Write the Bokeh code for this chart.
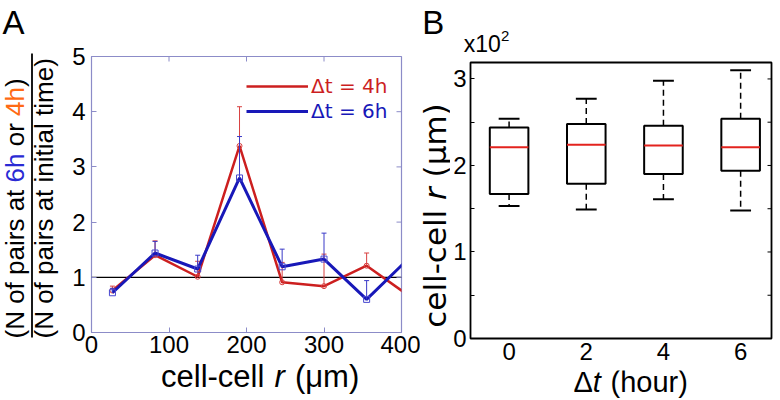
from bokeh.plotting import figure
from bokeh.models import (Range1d, FixedTicker, Label, Span, BoxAnnotation, Grid, Plot,
                          Legend, LegendItem, ColumnDataSource)
from bokeh.layouts import row, column
from bokeh.embed import file_html
from bokeh.resources import INLINE
import math

# ---------------- Panel A data ----------------
r_um = [27, 82, 137, 191, 246, 300, 355, 410]
ratio_4h = [0.76, 1.40, 1.01, 3.38, 0.91, 0.84, 1.21, 0.66]
err_4h = [0.08, 0.26, 0.28, 0.71, 0.36, 0.58, 0.23, 0.20]
ratio_6h = [0.72, 1.44, 1.15, 2.80, 1.19, 1.33, 0.60, 1.35]
err_6h = [0.08, 0.21, 0.25, 0.75, 0.32, 0.47, 0.34, 0.30]
ref_level = 1.0
a_xticks = [0, 100, 200, 300, 400]
a_yticks = [0, 1, 2, 3, 4, 5]

# ---------------- Panel B data (units of 10^2 um) ----------------
dt_hours = ["0", "2", "4", "6"]
whisker_low = [1.53, 1.49, 1.61, 1.48]
q1 = [1.67, 1.79, 1.90, 1.94]
median = [2.21, 2.24, 2.23, 2.21]
q3 = [2.44, 2.48, 2.46, 2.54]
whisker_high = [2.54, 2.77, 2.98, 3.10]
b_yticks = [0, 1, 2, 3]
b_yminor = [0.5, 1.5, 2.5]

FONT = "Liberation Sans"
RED = "#cc1f1f"
BLUE = "#1818b8"
FRAME_A = "#8c8cc8"
MID = 0.3465   # baseline -> middle of text box, in em
HAS_FRAME_ALIGN = "frame_align" in Plot.properties()

LIB = {' ': 278, '(': 333, ')': 333, 'N': 722, 'o': 556, 'f': 278, 'p': 556, 'a': 556,
       'i': 222, 'r': 333, 's': 500, 't': 278, '6': 556, '4': 556, 'h': 556, 'n': 556,
       'l': 222, 'm': 833, 'e': 556, 'c': 500, '-': 333, 'μ': 577, 'Δ': 668, 'u': 556,
       'x': 500, '1': 556, '0': 556, '2': 556, 'A': 667, 'B': 667}
DJV = {'c': 1126 / 2.048, 'e': 1260 / 2.048, 'l': 569 / 2.048, '-': 739 / 2.048,
       ' ': 651 / 2.048, 'r': 842 / 2.048, '(': 799 / 2.048, ')': 799 / 2.048,
       'μ': 1300 / 2.048, 'm': 1995 / 2.048}


def tw(s, size, table=LIB):
    return sum(table[ch] for ch in s) * size / 1000.0


def no_align(f):
    if HAS_FRAME_ALIGN:
        f.frame_align = False
    return f


def strip(x0, x1, y0, y1):
    """A text-only canvas whose data coordinates are page pixels."""
    f = figure(width=x1 - x0, height=y1 - y0, x_range=Range1d(x0, x1),
               y_range=Range1d(y1, y0), output_backend="svg", toolbar_location=None,
               min_border=0, x_axis_location=None, y_axis_location=None, title=None)
    for r in list(f.center):
        if isinstance(r, Grid):
            r.visible = False
    f.outline_line_color = None
    f.background_fill_color = "white"
    f.border_fill_color = "white"
    return no_align(f)


def run_h(fig, x_start, baseline, pieces, size, font=FONT, table=LIB, gap=0.0):
    """Horizontal run of left-aligned text pieces; pieces = [(text, colour, style)]."""
    x = x_start
    for txt, col, sty in pieces:
        core = txt.strip(" ")
        lead = len(txt) - len(txt.lstrip(" "))
        trail = len(txt) - len(txt.rstrip(" "))
        x0 = x + tw(" " * lead, size, table) + (gap if lead else 0.0)
        fig.add_layout(Label(x=x0, y=baseline - MID * size, text=core, text_font=font,
                             text_font_size=f"{size}px", text_color=col,
                             text_font_style=sty, text_align="left",
                             text_baseline="middle"))
        x = x0 + tw(core, size, table) + tw(" " * trail, size, table) + (gap if trail else 0.0)


def run_v(fig, baseline_x, y_start, pieces, size, font=FONT, table=LIB):
    """Upward (rotated 90 deg) run of text pieces starting at y_start."""
    y = y_start
    for txt, col, sty in pieces:
        core = txt.strip(" ")
        lead = len(txt) - len(txt.lstrip(" "))
        cy = y - tw(" " * lead, size, table) - tw(core, size, table) / 2
        fig.add_layout(Label(x=baseline_x - MID * size, y=cy, text=core, text_font=font,
                             text_font_size=f"{size}px", text_color=col,
                             text_font_style=sty, angle=math.pi / 2,
                             text_align="center", text_baseline="middle"))
        y -= tw(txt, size, table)


def style_axis(axis, color, tick_in, size, standoff):
    axis.axis_line_color = None
    axis.major_tick_in = tick_in
    axis.major_tick_out = 0
    axis.major_tick_line_color = color
    axis.major_tick_line_width = 1
    axis.minor_tick_line_color = None
    axis.major_label_text_font = FONT
    axis.major_label_text_font_size = f"{size}px"
    axis.major_label_text_color = "black"
    axis.major_label_standoff = standoff


# ---------------- Panel A ----------------
pa = figure(width=356, height=363, x_range=Range1d(0, 400), y_range=Range1d(0, 5),
            output_backend="svg", toolbar_location=None, title=None,
            min_border_left=27, min_border_right=19, min_border_top=56, min_border_bottom=31)
no_align(pa)
pa.background_fill_color = "white"
pa.border_fill_color = "white"
pa.outline_line_color = FRAME_A
pa.outline_line_width = 1.2
pa.xgrid.grid_line_color = None
pa.ygrid.grid_line_color = None
pa.xaxis.ticker = FixedTicker(ticks=a_xticks)
pa.yaxis.ticker = FixedTicker(ticks=a_yticks)
style_axis(pa.xaxis[0], FRAME_A, 5, 24, 3)
style_axis(pa.yaxis[0], FRAME_A, 5, 24, 6)

ax_end, ay_end = pa.x_range.end, pa.y_range.end
top_t = a_xticks[1:-1]
pa.segment(x0=top_t, y0=[ay_end] * len(top_t), x1=top_t,
           y1=[ay_end - 5 * ay_end / 276] * len(top_t), line_color=FRAME_A, line_width=1)
right_t = a_yticks[1:-1]
pa.segment(x0=[ax_end] * len(right_t), y0=right_t, x1=[ax_end - 5 * ax_end / 310] * len(right_t),
           y1=right_t, line_color=FRAME_A, line_width=1)

pa.add_layout(Span(location=ref_level, dimension="width", line_color="black",
                   line_width=1.2, level="underlay"))

src4 = ColumnDataSource(dict(x=r_um, y=ratio_4h,
                             top=[v + e for v, e in zip(ratio_4h, err_4h)]))
src6 = ColumnDataSource(dict(x=r_um, y=ratio_6h,
                             top=[v + e for v, e in zip(ratio_6h, err_6h)]))

l4 = pa.line("x", "y", source=src4, line_color=RED, line_width=2.5)
pa.segment(x0="x", y0="y", x1="x", y1="top", source=src4, line_color="#d84040", line_width=1)
pa.scatter("x", "top", source=src4, marker="dash", size=5, line_color="#d84040", line_width=1)
pa.scatter("x", "y", source=src4, marker="circle", size=5, fill_color=None,
           line_color="#d84040", line_width=1)

l6 = pa.line("x", "y", source=src6, line_color=BLUE, line_width=3)
pa.segment(x0="x", y0="y", x1="x", y1="top", source=src6, line_color="#3a3ac8", line_width=1)
pa.scatter("x", "top", source=src6, marker="dash", size=5, line_color="#3a3ac8", line_width=1)
pa.scatter("x", "y", source=src6, marker="square", size=6, fill_color=None,
           line_color="#4848d0", line_width=1)

A_FRAME_LEFT, A_FRAME_BOTTOM = 91, 332
for rend, text, col, row_cy in [(l4, "Δt = 4h", RED, 85.7), (l6, "Δt = 6h", BLUE, 110.7)]:
    pa.add_layout(Legend(items=[LegendItem(label=text, renderers=[rend])],
                         location=(246 - A_FRAME_LEFT, A_FRAME_BOTTOM - (row_cy + 12)),
                         label_text_color=col, label_text_font="DejaVu Sans",
                         label_text_font_size="20px", glyph_width=62, glyph_height=24,
                         label_height=24, label_standoff=3, padding=0, margin=0, spacing=0,
                         border_line_color=None, background_fill_alpha=0))

# ---------------- Panel B ----------------
pb = figure(width=330, height=314, x_range=Range1d(0.5, 4.4), y_range=Range1d(0, 3.19),
            output_backend="svg", toolbar_location=None, title=None,
            min_border_left=18, min_border_right=9, min_border_top=6, min_border_bottom=32)
no_align(pb)
pb.background_fill_color = "white"
pb.border_fill_color = "white"
pb.outline_line_color = "black"
pb.outline_line_width = 1.8
pb.xgrid.grid_line_color = None
pb.ygrid.grid_line_color = None

pos = list(range(1, len(dt_hours) + 1))
pb.xaxis.ticker = FixedTicker(ticks=pos)
pb.xaxis.major_label_overrides = {p: h for p, h in zip(pos, dt_hours)}
style_axis(pb.xaxis[0], "black", 0, 24, 4)
pb.yaxis.ticker = FixedTicker(ticks=b_yticks, minor_ticks=b_yminor)
style_axis(pb.yaxis[0], "black", 4, 24, 4)
pb.yaxis.minor_tick_in = 4
pb.yaxis.minor_tick_out = 0
pb.yaxis.minor_tick_line_color = "black"

bx_end = pb.x_range.end
rt = b_yticks[1:] + b_yminor
pb.segment(x0=[bx_end] * len(rt), y0=rt, x1=[bx_end - 4 * (4.4 - 0.5) / 303] * len(rt), y1=rt,
           line_color="black", line_width=1)

bsrc = ColumnDataSource(dict(x=pos, lo=whisker_low, q1=q1, med=median, q3=q3, hi=whisker_high,
                             cl=[p - 0.135 for p in pos], cr=[p + 0.135 for p in pos],
                             bl=[p - 0.25 for p in pos], br=[p + 0.25 for p in pos]))
pb.segment(x0="x", y0="q3", x1="x", y1="hi", source=bsrc, line_color="black",
           line_width=1.5, line_dash="6 4")
pb.segment(x0="x", y0="q1", x1="x", y1="lo", source=bsrc, line_color="black",
           line_width=1.5, line_dash="6 4")
pb.segment(x0="cl", y0="hi", x1="cr", y1="hi", source=bsrc, line_color="black", line_width=2)
pb.segment(x0="cl", y0="lo", x1="cr", y1="lo", source=bsrc, line_color="black", line_width=2)
pb.vbar(x="x", width=0.5, bottom="q1", top="q3", source=bsrc, fill_color="white",
        line_color="black", line_width=2)
pb.segment(x0="bl", y0="med", x1="br", y1="med", source=bsrc, line_color="#e3231e",
           line_width=2)

# ---------------- text strips (page-pixel coordinates) ----------------
K = "black"
sL = strip(0, 64, 0, 400)
run_h(sL, 2, 33.3, [("A", K, "normal")], 33)
yfs = 26
run_v(sL, 23.5, 338, [("(N of pairs at ", K, "normal"), ("6h", "#2a2ad4", "normal"),
                      (" or ", K, "normal"), ("4h", "#ff6a14", "normal"),
                      (")", K, "normal")], yfs)
run_v(sL, 53, 338, [("(N of pairs at initial time)", K, "normal")], yfs)
sL.add_layout(BoxAnnotation(left=30.6, right=32.4, top=53, bottom=337,
                            fill_color="black", fill_alpha=1, line_color=None))

sAb = strip(64, 420, 363, 400)
run_h(sAb, 160.5, 387, [("cell-cell ", K, "normal"), ("r", K, "italic"),
                        (" (μm)", K, "normal")], 31, gap=1.5)

sBL = strip(420, 450, 0, 400)
run_h(sBL, 421.7, 33.3, [("B", K, "normal")], 33)
yfs_b = 31
run_v(sBL, 445, 215 + tw("cell-cell r (μm)", yfs_b, DJV) / 2,
      [("cell-cell ", K, "normal"), ("r", K, "italic"), (" (μm)", K, "normal")],
      yfs_b, font="DejaVu Sans", table=DJV)

sBt = strip(450, 780, 0, 56)
run_h(sBt, 463.3, 51.7, [("x10", K, "normal")], 23)
run_h(sBt, 463.3 + tw("x10", 23), 40.5, [("2", K, "normal")], 15)

sBb = strip(450, 780, 370, 400)
run_h(sBb, 573.0, 391.5, [("Δ", K, "normal"), ("t", K, "italic"),
                          (" (hour)", K, "normal")], 29, gap=1.5)

layout = row(sL, column(pa, sAb), sBL, column(sBt, pb, sBb))
open("out.html", "w").write(file_html(layout, INLINE))
